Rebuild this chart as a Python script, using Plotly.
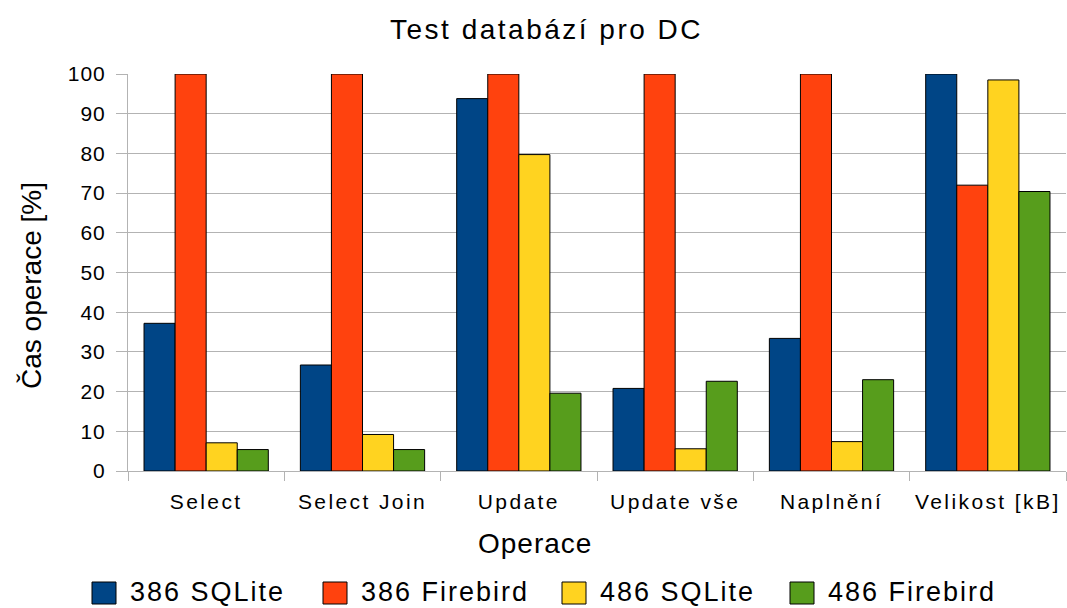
import plotly.graph_objects as go

# ---- data ----
categories = ["Select", "Select Join", "Update", "Update vše", "Naplnění", "Velikost [kB]"]
series_names = ["386 SQLite", "386 Firebird", "486 SQLite", "486 Firebird"]
s386_sqlite = [37.2, 26.7, 93.8, 20.8, 33.4, 100.0]
s386_firebird = [100.0, 100.0, 100.0, 100.0, 100.0, 72.0]
s486_sqlite = [7.1, 9.2, 79.7, 5.6, 7.4, 98.5]
s486_firebird = [5.4, 5.4, 19.6, 22.6, 23.0, 70.4]
y_ticks = [0, 10, 20, 30, 40, 50, 60, 70, 80, 90, 100]
title_text = "Test databází pro DC"
x_title = "Operace"
y_title = "Čas operace [%]"

series_values = [s386_sqlite, s386_firebird, s486_sqlite, s486_firebird]
colors = ["#004586", "#ff420e", "#ffd320", "#579d1c"]

W, H = 1067, 608
L, R, T, B = 128, 1, 74, 137
plot_w = W - L - R
plot_h = H - T - B
FONT = "Liberation Sans"


def px_x(px):
    return (px - L) / plot_w


def px_y(py):
    return (H - B - py) / plot_h


def spaced(txt, s):
    return f'<span style="letter-spacing:{s}px">{txt}</span>'


fig = go.Figure()
for name, vals, col in zip(series_names, series_values, colors):
    fig.add_trace(go.Bar(
        x=categories, y=vals, name=name,
        marker=dict(color=col, line=dict(color="#000000", width=1)),
        showlegend=False,
    ))

grid = "#b3b3b3"
fig.update_layout(
    width=W, height=H,
    margin=dict(l=L, r=R, t=T, b=B),
    paper_bgcolor="white", plot_bgcolor="white",
    barmode="group", bargap=0.205, bargroupgap=0,
    font=dict(family=FONT, color="#000000"),
    xaxis=dict(
        type="category",
        tickmode="array", tickvals=categories,
        ticktext=[spaced(c, 2.4) for c in categories],
        tickfont=dict(size=21, family=FONT, color="#000000"),
        showline=True, linecolor=grid, linewidth=1,
        ticks="outside", tickson="boundaries", ticklen=9, tickcolor=grid,
        showgrid=False, ticklabelstandoff=12,
    ),
    yaxis=dict(
        range=[0, 100],
        tickmode="array", tickvals=y_ticks,
        ticktext=[spaced(str(v), 1) for v in y_ticks],
        tickfont=dict(size=21, family=FONT, color="#000000"),
        showline=True, linecolor=grid, linewidth=1,
        ticks="outside", ticklen=11, tickcolor=grid,
        showgrid=True, gridcolor=grid, gridwidth=1,
        zeroline=False, ticklabelstandoff=6,
    ),
)

annotations = [
    dict(text=spaced(title_text, 2.5), x=px_x(546), y=px_y(29),
         xref="paper", yref="paper", xanchor="center", yanchor="middle",
         showarrow=False, font=dict(size=28, family=FONT, color="#000000")),
    dict(text=spaced(x_title, 1), x=px_x(535), y=px_y(543),
         xref="paper", yref="paper", xanchor="center", yanchor="middle",
         showarrow=False, font=dict(size=28, family=FONT, color="#000000")),
    dict(text=y_title, x=px_x(31), y=px_y(286), textangle=-90,
         xref="paper", yref="paper", xanchor="center", yanchor="middle",
         showarrow=False, font=dict(size=28, family=FONT, color="#000000")),
]

shapes = []
legend_sq_left = [92, 323, 562, 790]
for name, col, sx in zip(series_names, colors, legend_sq_left):
    shapes.append(dict(type="rect", xref="paper", yref="paper",
                       x0=px_x(sx), x1=px_x(sx + 24), y0=px_y(604), y1=px_y(582),
                       fillcolor=col, line=dict(color="#000000", width=1)))
    annotations.append(dict(text=spaced(name, 2), x=px_x(sx + 37), y=px_y(607.5),
                            xref="paper", yref="paper", xanchor="left", yanchor="bottom",
                            borderpad=0, showarrow=False,
                            font=dict(size=27, family=FONT, color="#000000")))

fig.update_layout(annotations=annotations, shapes=shapes)
fig.write_html("out.html",
               config={"displayModeBar": False},
               post_script="document.body.style.margin='0';document.body.style.overflow='hidden';")
